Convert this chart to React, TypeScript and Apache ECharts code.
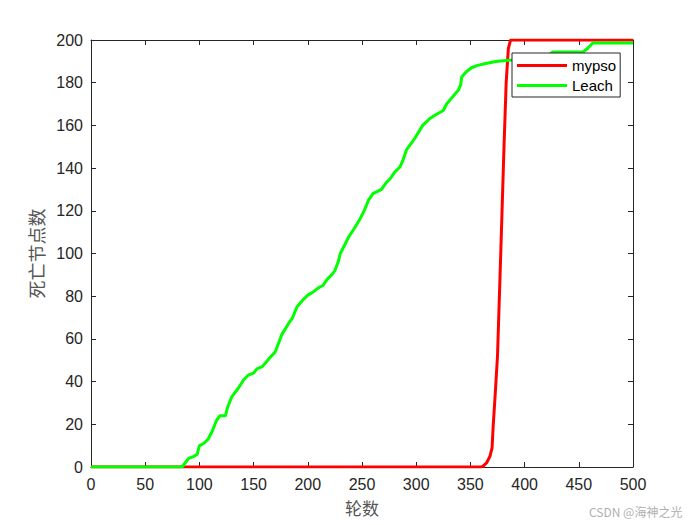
import React, { useEffect, useRef } from "react";
import * as echarts from "echarts";

const xTicks = [0, 50, 100, 150, 200, 250, 300, 350, 400, 450, 500];
const yTicks = [0, 20, 40, 60, 80, 100, 120, 140, 160, 180, 200];

const mypsoX = [0, 360, 362, 365, 368, 370, 371, 373, 375, 378, 381, 383, 385, 387, 500];
const mypsoY = [0, 0, 0.5, 2, 5, 9, 19, 35, 52, 100, 150, 180, 196, 200, 200];

const leachX = [0, 84, 87, 90, 95, 98, 100, 104, 108, 112, 116, 119, 124, 126, 130, 136, 141, 145, 150, 153, 158, 163, 170, 173, 176, 182, 186, 190, 195, 200, 205, 210, 214, 218, 222, 225, 228, 230, 234, 238, 242, 248, 252, 256, 260, 264, 268, 272, 276, 280, 285, 288, 291, 296, 300, 306, 312, 318, 325, 328, 333, 339, 341, 342, 346, 351, 356, 364, 375, 386, 400, 420, 426, 454, 458, 463, 500];
const leachY = [0, 0, 2, 4, 5, 6, 10, 11, 13, 17, 22, 24, 24, 28, 33, 37, 41, 43, 44, 46, 47, 50, 54, 58, 62, 67, 70, 75, 78, 80.5, 82, 84, 85, 88, 90, 92, 96, 100, 104, 108, 111, 116, 120, 125, 128, 129, 130, 133, 135, 138, 140.5, 144, 148.5, 152, 155, 160, 163, 165, 167, 170, 173, 176.6, 179, 182.7, 185, 187, 188, 189, 190, 190.5, 191, 192, 194.4, 194.4, 196, 198.6, 198.6];

const seriesNames = ["mypso", "Leach"];
const xName = "轮数";
const yName = "死亡节点数";

export default function App() {
  const ref = useRef<HTMLDivElement>(null);
  useEffect(() => {
    const chart = echarts.init(ref.current!, undefined, { renderer: "svg" });
    const axisColor = "#262626";
    const tickFont = { fontFamily: "Liberation Sans, Arial, sans-serif", fontSize: 16, color: axisColor };
    const common = {
      type: "value" as const,
      axisLine: { show: true, onZero: false, lineStyle: { color: axisColor, width: 1 } },
      axisTick: { show: true, inside: true, length: 5, lineStyle: { color: axisColor } },
      splitLine: { show: false },
    };
    chart.setOption({
      animation: false,
      backgroundColor: "#ffffff",
      grid: { left: 91, right: 67, top: 40, bottom: 58, containLabel: false },
      xAxis: [
        {
          ...common,
          min: 0, max: 500, interval: 50,
          position: "bottom",
          axisLabel: { ...tickFont, margin: 9, formatter: (v: number) => (xTicks.includes(v) ? String(v) : "") },
          name: xName,
          nameLocation: "middle",
          nameGap: 32,
          nameTextStyle: { fontFamily: "Noto Sans CJK SC", fontSize: 17, color: "#555555" },
        },
        {
          ...common,
          min: 0, max: 500, interval: 50,
          position: "top",
          axisLabel: { show: false },
        },
      ],
      yAxis: [
        {
          ...common,
          min: 0, max: 200, interval: 20,
          position: "left",
          axisLabel: { ...tickFont, margin: 8, formatter: (v: number) => (yTicks.includes(v) ? String(v) : "") },
          name: yName,
          nameLocation: "middle",
          nameGap: 42,
          nameRotate: 90,
          nameTextStyle: { fontFamily: "Noto Sans CJK SC", fontSize: 18, color: "#555555", padding: [0, 0, 0, 0] },
        },
        {
          ...common,
          min: 0, max: 200, interval: 20,
          position: "right",
          axisLabel: { show: false },
        },
      ],
      legend: {
        left: 512,
        top: 53,
        orient: "vertical",
        backgroundColor: "#ffffff",
        borderColor: "#262626",
        borderWidth: 1,
        borderRadius: 0,
        padding: [5, 4, 4, 5],
        itemWidth: 50,
        itemHeight: 14,
        itemGap: 5,
        textStyle: { fontFamily: "Liberation Sans, Arial, sans-serif", fontSize: 15, lineHeight: 15, color: "#000" },
        data: seriesNames.map((n) => ({ name: n, icon: "path://M0,6 L50,6 L50,9 L0,9 Z" })),
      },
      series: [
        {
          name: seriesNames[0],
          type: "line",
          showSymbol: false,
          symbol: "none",
          lineStyle: { color: "#ff0000", width: 3 },
          itemStyle: { color: "#ff0000" },
          data: mypsoX.map((x, i) => [x, mypsoY[i]]),
          z: 2,
        },
        {
          name: seriesNames[1],
          type: "line",
          showSymbol: false,
          symbol: "none",
          lineStyle: { color: "#00ff00", width: 3 },
          itemStyle: { color: "#00ff00" },
          data: leachX.map((x, i) => [x, leachY[i]]),
          z: 3,
        },
      ],
      graphic: [
        {
          type: "text",
          left: 589,
          top: 505,
          style: { text: "CSDN @海神之光", fontFamily: "Noto Sans CJK SC", fontSize: 12, fill: "#b0b0b0" },
        },
      ],
    });
    return () => chart.dispose();
  }, []);
  return <div ref={ref} style={{ width: 700, height: 525, position: "absolute", left: 0, top: 0 }} />;
}
